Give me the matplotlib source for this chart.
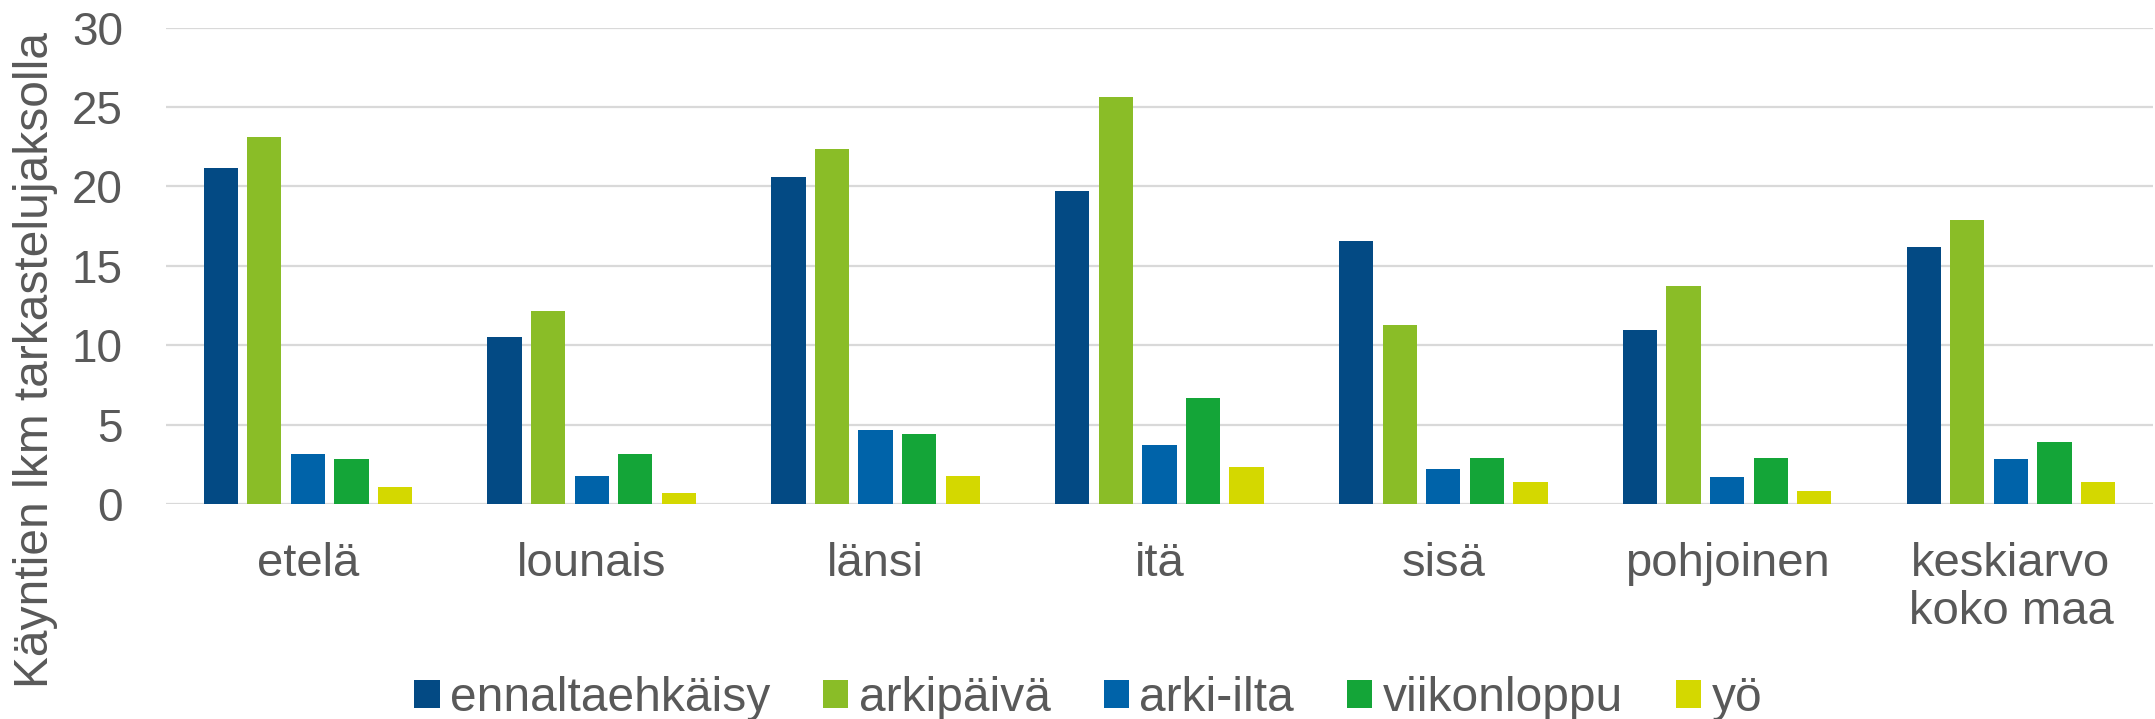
import matplotlib.pyplot as plt
import numpy as np

plt.rcParams['font.family'] = ['Liberation Sans', 'DejaVu Sans']

regions = ['etelä', 'lounais', 'länsi', 'itä', 'sisä', 'pohjoinen', 'keskiarvo\nkoko maa']
series = ['ennaltaehkäisy', 'arkipäivä', 'arki-ilta', 'viikonloppu', 'yö']
ennaltaehkaisy = [21.15, 10.53, 20.61, 19.71, 16.58, 10.99, 16.18]
arkipaiva = [23.13, 12.18, 22.39, 25.63, 11.28, 13.74, 17.88]
arki_ilta = [3.13, 1.79, 4.66, 3.72, 2.18, 1.72, 2.84]
viikonloppu = [2.84, 3.15, 4.41, 6.66, 2.88, 2.90, 3.93]
yo = [1.09, 0.69, 1.76, 2.33, 1.37, 0.82, 1.37]
colors = ['#034A84', '#8ABD27', '#0063A9', '#14A538', '#D4D800']

grey = '#595959'
fig = plt.figure(figsize=(21.55, 7.19), dpi=100)
ax = fig.add_axes([0.077, 0.299, 0.922, 0.6625])

x = np.arange(len(regions))
pitch = 0.1535
width = 0.1208
values = [ennaltaehkaisy, arkipaiva, arki_ilta, viikonloppu, yo]
for j, (name, vals) in enumerate(zip(series, values)):
    ax.bar(x + (j - 2) * pitch, vals, width, color=colors[j], label=name, zorder=3)

ax.set_xlim(-0.5, len(regions) - 0.5)
ax.set_ylim(0, 30)
ax.set_yticks(range(0, 31, 5))
ax.set_xticks(x)
ax.set_xticklabels(regions, fontsize=34, color=grey, linespacing=1.12)
ax.tick_params(axis='y', labelsize=33, colors=grey, length=0, pad=31)
ax.tick_params(axis='x', length=0, pad=27)
ax.grid(axis='y', color='#D9D9D9', linewidth=1.6, zorder=0)
for s in ax.spines.values():
    s.set_visible(False)

fig.text(0.006, 0.5, 'Käyntien lkm tarkastelujaksolla', rotation=90,
         fontsize=34.5, color=grey, ha='left', va='center')

fig.legend(loc='center', bbox_to_anchor=(0.505, 0.029), ncol=5, frameon=False,
           fontsize=34.5, labelcolor=grey, handlelength=0.53, handleheight=0.53,
           handletextpad=0.22, columnspacing=1.1, borderpad=0, borderaxespad=0)

fig.savefig('out.png', dpi=100)
